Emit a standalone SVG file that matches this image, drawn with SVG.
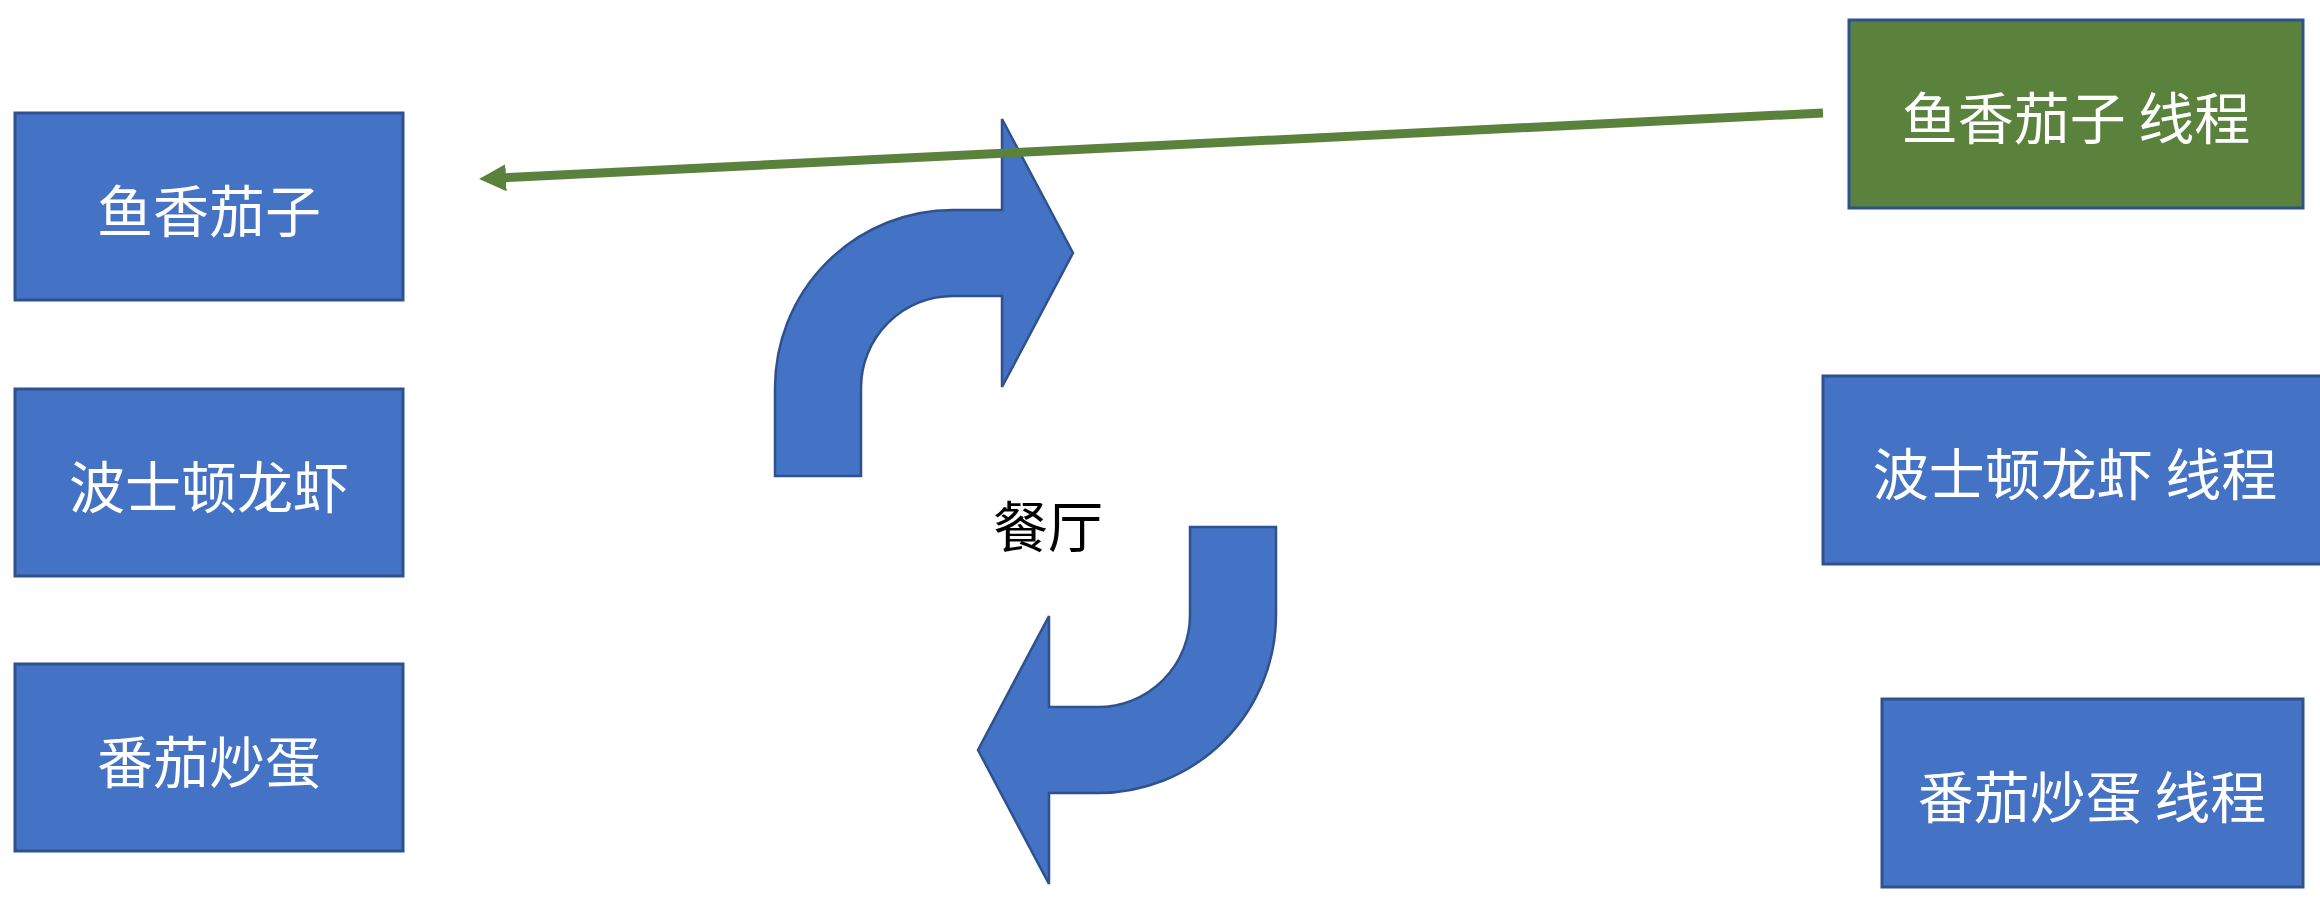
<svg xmlns="http://www.w3.org/2000/svg" width="2320" height="904" viewBox="0 0 2320 904">
<style>
.box{fill:#4472C4;stroke:#2F528F;stroke-width:3}
.gbox{fill:#5B823D;stroke:#2F528F;stroke-width:3}
.lbl{font-family:"Noto Sans CJK SC","Noto Sans",sans-serif;font-size:56px;fill:#FFFFFF;text-anchor:middle;dominant-baseline:central}
.blk{font-family:"Noto Sans CJK SC","Noto Sans",sans-serif;font-size:55px;fill:#000000;text-anchor:middle;dominant-baseline:central}
.bent{fill:#4472C4;stroke:#2F528F;stroke-width:2.5;stroke-linejoin:miter}
</style>
<defs>
<marker id="ah" markerUnits="userSpaceOnUse" markerWidth="27" markerHeight="27" viewBox="0 0 27 27" refX="1" refY="13.5" orient="auto">
<path d="M0,0 L27,13.5 L0,27 Z" fill="#5B823D"/>
</marker>
</defs>
<rect width="2320" height="904" fill="#FFFFFF"/>
<g id="n-yuxiang">
<rect class="box" x="15" y="113" width="388" height="187"/>
<text class="lbl" x="209" y="207">鱼香茄子</text>
</g>
<g id="n-boston">
<rect class="box" x="15" y="389" width="388" height="187"/>
<text class="lbl" x="209" y="483">波士顿龙虾</text>
</g>
<g id="n-fanqie">
<rect class="box" x="15" y="664" width="388" height="187"/>
<text class="lbl" x="209" y="758">番茄炒蛋</text>
</g>
<g id="n-yuxiang-thread">
<rect class="gbox" x="1849" y="20" width="454" height="188"/>
<text class="lbl" x="2076" y="114">鱼香茄子 线程</text>
</g>
<g id="n-boston-thread">
<rect class="box" x="1823" y="376" width="506" height="188"/>
<text class="lbl" x="2075" y="470">波士顿龙虾 线程</text>
</g>
<g id="n-fanqie-thread">
<rect class="box" x="1882" y="699" width="421" height="188"/>
<text class="lbl" x="2092" y="793">番茄炒蛋 线程</text>
</g>
<g id="n-restaurant">
<path class="bent" d="M775 476 L775 388 A178 178 0 0 1 953 210 L1002 210 L1002 119 L1073 253 L1002 387 L1002 296 L953 296 A92 92 0 0 0 861 388 L861 476 Z"/>
<path class="bent" transform="rotate(180 1025.5 501.5)" d="M775 476 L775 388 A178 178 0 0 1 953 210 L1002 210 L1002 119 L1073 253 L1002 387 L1002 296 L953 296 A92 92 0 0 0 861 388 L861 476 Z"/>
<text class="blk" x="1048" y="523">餐厅</text>
</g>
<g id="connectors">
<line x1="1823" y1="113" x2="505" y2="177.7" stroke="#5B823D" stroke-width="9" marker-end="url(#ah)"/>
</g>
</svg>
